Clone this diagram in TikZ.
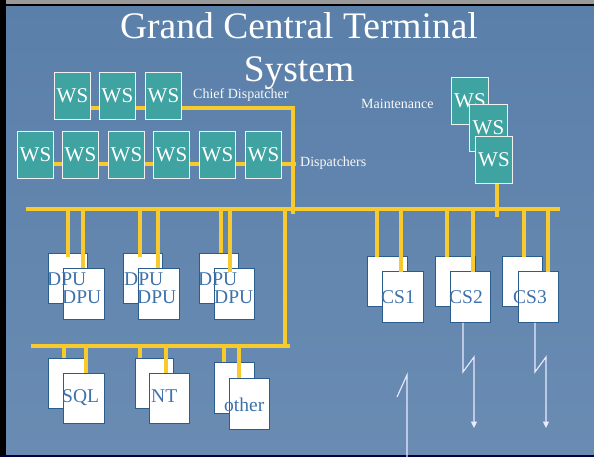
\documentclass[tikz,border=0pt]{standalone}
\usepackage{fontspec}
\setmainfont{Liberation Serif}
\usetikzlibrary{arrows.meta}
\definecolor{bgtop}{HTML}{5A7FA9}
\definecolor{bgbot}{HTML}{6A8CB3}
\definecolor{wsfill}{HTML}{3FA3A1}
\definecolor{yel}{HTML}{F7CB2D}
\definecolor{boxline}{HTML}{2B5C8C}
\definecolor{btext}{HTML}{3E72AB}
\pgfdeclarelayer{back}
\pgfdeclarelayer{lines}
\pgfsetlayers{back,lines,main}
\newcommand\ystub[4]{\draw[yl] ([xshift=#3pt]#2.north west |- #1) -- ([xshift=#3pt,yshift=-#4pt]#2.north west);}
\begin{document}
\begin{tikzpicture}[x=1pt,y=-1pt,
  ws/.style={draw=white!88!gray, line width=0.9pt, fill=wsfill, text=white,
    font=\fontsize{21}{21}\selectfont, minimum width=36pt, minimum height=47pt,
    inner sep=0pt, anchor=north west},
  wbox/.style={draw=boxline, line width=0.8pt, fill=white, minimum width=40pt,
    minimum height=50pt, inner sep=0pt, anchor=north west},
  yl/.style={draw=yel, line width=4.5pt},
  lbl/.style={text=white!95!gray, font=\fontsize{14}{14}\selectfont, anchor=base west, inner sep=0pt},
  btx/.style={text=btext, font=\fontsize{19.5}{19.5}\selectfont, anchor=base west, inner sep=0pt},
  ttl/.style={text=white, font=\fontsize{37.5}{37.5}\selectfont, anchor=base, inner sep=0pt},
  bolt/.style={draw=white!92!blue, line width=1.1pt},
]
\useasboundingbox (0,0) rectangle (594,457);
\begin{pgfonlayer}{back}
\shade[top color=bgtop, bottom color=bgbot] (0,0) rectangle (594,457);
\fill[gray!80] (0,0) rectangle (594,4);
\fill[black] (0,4) rectangle (594,5.8);
\fill[black] (0,0) rectangle (6,457);
\fill[black!75!blue] (0,455) rectangle (594,457);
\end{pgfonlayer}

% title
\node[ttl] (t1) at (299,39) {Grand Central Terminal};
\node[ttl] (t2) at (299,82) {System};

% chief dispatcher workstations
\node[ws] (c1) at (54,72) {WS};
\node[ws] (c2) at (99,72) {WS};
\node[ws] (c3) at (145,72) {WS};
\node[lbl] (lc) at (193,99) {Chief Dispatcher};

% dispatcher workstations
\node[ws] (d1) at (17,131) {WS};
\node[ws] (d2) at (62,131) {WS};
\node[ws] (d3) at (108,131) {WS};
\node[ws] (d4) at (153,131) {WS};
\node[ws] (d5) at (199,131) {WS};
\node[ws] (d6) at (245,131) {WS};
\node[lbl] (ld) at (300,167) {Dispatchers};

% maintenance workstations
\node[lbl] (lm) at (361,109) {Maintenance};
\node[ws,minimum width=37pt] (m1) at (451,77) {WS};
\node[ws,minimum width=38pt] (m2) at (469,104) {WS};
\node[ws,minimum width=37pt] (m3) at (475,136) {WS};

% coordinates of the yellow network
\coordinate (cj) at (295,108);
\coordinate (dj) at (296,164);
\coordinate (vt) at (293,106);
\coordinate (vb) at (293,214);
\coordinate (busW) at (26,209);
\coordinate (busE) at (560,209);
\coordinate (v2t) at (285,209);
\coordinate (bus2W) at (31,346);
\coordinate (bus2E) at (290,346);

% DPU groups
\node[wbox,minimum width=39pt] (p1b) at (48,253) {};
\node[wbox,minimum width=41pt,minimum height=51pt] (p1f) at (63,268) {};
\node[wbox,minimum width=39pt] (p2b) at (123,253) {};
\node[wbox,minimum width=41pt,minimum height=51pt] (p2f) at (138,268) {};
\node[wbox,minimum width=39pt] (p3b) at (199,253) {};
\node[wbox,minimum height=51pt] (p3f) at (214,268) {};

% server groups
\node[wbox,minimum width=39pt] (s1b) at (48,358) {};
\node[wbox,minimum width=41pt] (s1f) at (63,373) {};
\node[wbox,minimum width=38pt] (s2b) at (135,358) {};
\node[wbox] (s2f) at (149,373) {};
\node[wbox,minimum height=51pt] (s3b) at (214,362) {};
\node[wbox,minimum height=51pt] (s3f) at (229,378) {};

% CS groups
\node[wbox] (k1b) at (367,256) {};
\node[wbox,minimum width=41pt,minimum height=51pt] (k1f) at (382,271) {};
\node[wbox] (k2b) at (435,256) {};
\node[wbox,minimum height=51pt] (k2f) at (450,271) {};
\node[wbox] (k3b) at (502,256) {};
\node[wbox,minimum height=51pt] (k3f) at (518,271) {};

% yellow lines behind the workstations
\begin{pgfonlayer}{lines}
\draw[yl] (cj -| c1.center) -- (cj);
\draw[yl] (dj -| d1.center) -- (dj);
\draw[yl] (vt) -- (vb);
\draw[yl] (busW) -- (busE);
\draw[yl] (v2t) -- (v2t |- bus2W);
\draw[yl] (bus2W) -- (bus2E);
\draw[yl] ([xshift=3pt]m3.south) -- ([xshift=3pt]m3.south |- 0,217);
\end{pgfonlayer}

% stubs from the buses
\ystub{busW}{p1b}{20}{4}
\ystub{busW}{p1f}{20}{0}
\ystub{busW}{p2b}{17}{4}
\ystub{busW}{p2f}{20}{0}
\ystub{busW}{p3b}{22}{0}
\ystub{busW}{p3f}{16}{4}
\ystub{bus2W}{s1b}{16}{0}
\ystub{bus2W}{s1f}{23}{0}
\ystub{bus2W}{s2b}{5}{0}
\ystub{bus2W}{s2f}{17}{0}
\ystub{bus2W}{s3b}{10}{0}
\ystub{bus2W}{s3f}{10}{0}
\ystub{busW}{k1b}{10}{1}
\ystub{busW}{k1f}{19}{1}
\ystub{busW}{k2b}{12}{1}
\ystub{busW}{k2f}{23}{1}
\ystub{busW}{k3b}{22}{1}
\ystub{busW}{k3f}{30}{1}

% box labels
\node[btx] (tp1b) at (47,285) {DPU};
\node[btx] (tp1f) at (62,303) {DPU};
\node[btx] (tp2b) at (124,285) {DPU};
\node[btx] (tp2f) at (137,303) {DPU};
\node[btx] (tp3b) at (198,285) {DPU};
\node[btx] (tp3f) at (214,303) {DPU};
\node[btx] (ts1) at (62,402) {SQL};
\node[btx] (ts2) at (151,402) {NT};
\node[btx] (ts3) at (224,411) {other};
\node[btx] (tk1) at (381,303) {CS1};
\node[btx] (tk2) at (449,303) {CS2};
\node[btx] (tk3) at (513,303) {CS3};

% lightning links
\coordinate (z2a) at (463,372);
\coordinate (z2b) at (474,357);
\coordinate (z2c) at (474,428);
\draw[bolt,-{Triangle[width=6pt,length=6.5pt]}] (k2f.south -| z2a) -- (z2a) -- (z2b) -- (z2c);
\coordinate (z3a) at (535,372);
\coordinate (z3b) at (546,357);
\coordinate (z3c) at (546,428);
\draw[bolt,-{Triangle[width=6pt,length=6.5pt]}] (k3f.south -| z3a) -- (z3a) -- (z3b) -- (z3c);
\coordinate (z1a) at (397,397);
\coordinate (z1b) at (407,375);
\coordinate (z1c) at (407,457);
\draw[bolt] (z1a) -- (z1b) -- (z1c);
\end{tikzpicture}
\end{document}
